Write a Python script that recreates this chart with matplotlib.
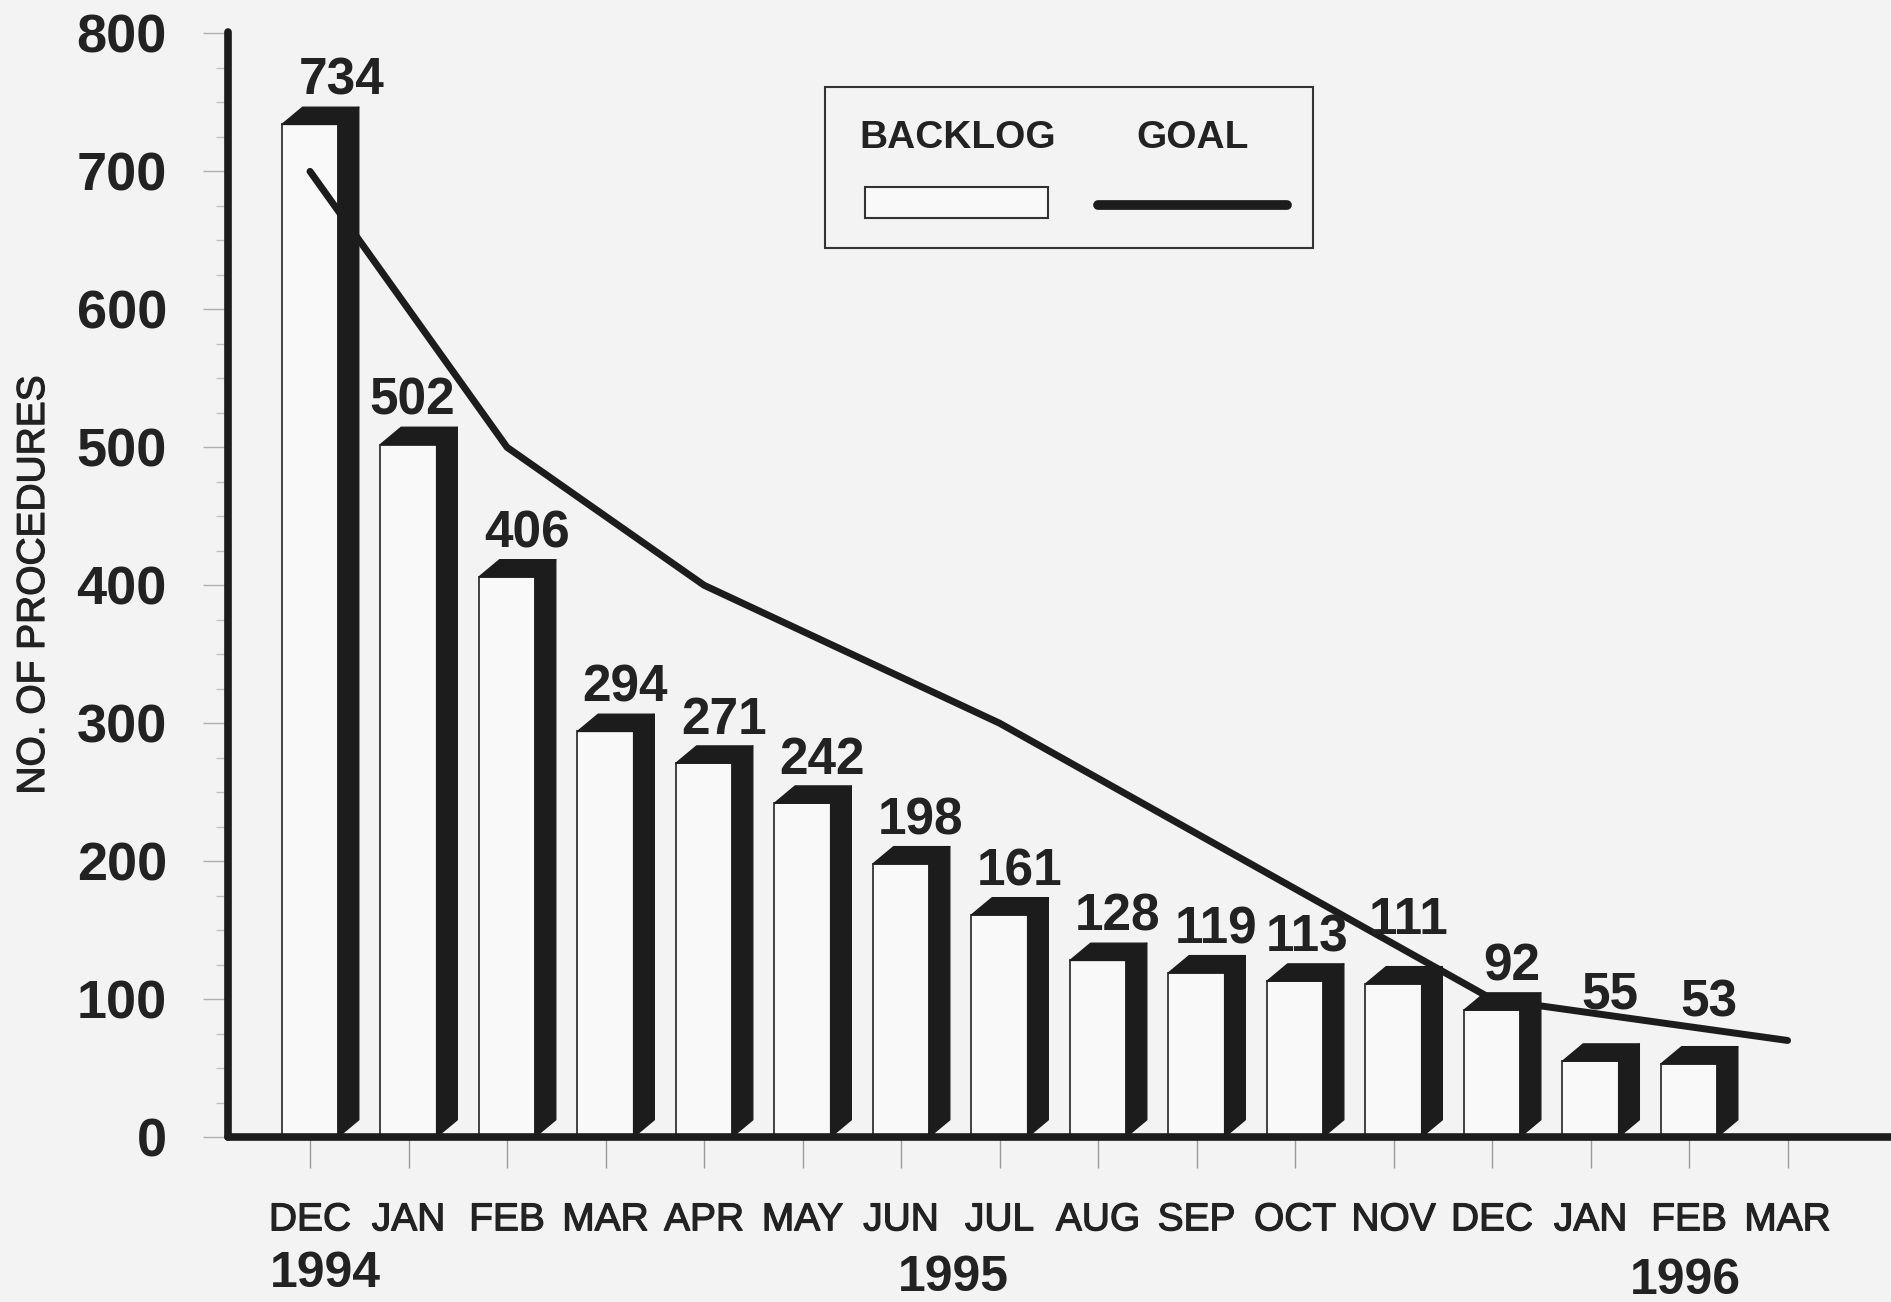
import numpy as np
import matplotlib.pyplot as plt
import matplotlib.patheffects as pe
from matplotlib.patches import Polygon, Rectangle
from matplotlib.lines import Line2D
from matplotlib.ticker import MultipleLocator

plt.rcParams['font.family'] = ['Liberation Sans', 'DejaVu Sans']

# procedure backlog, Dec 1994 - Mar 1996
months = ['DEC', 'JAN', 'FEB', 'MAR', 'APR', 'MAY', 'JUN', 'JUL',
          'AUG', 'SEP', 'OCT', 'NOV', 'DEC', 'JAN', 'FEB', 'MAR']
backlog = [734, 502, 406, 294, 271, 242, 198, 161, 128, 119, 113, 111, 92, 55, 53]

# goal line vertices (month index, value)
goal_idx = [0, 2, 4, 7, 12, 15]
goal_vals = [700, 500, 400, 300, 100, 70]

years = ['1994', '1995', '1996']

ink = '#1c1c1c'
txt = '#222222'
paper = '#f3f3f3'
face = '#f9f9f9'
thick = [pe.withStroke(linewidth=0.9, foreground=txt)]

fig = plt.figure(figsize=(18.91, 13.02), dpi=100, facecolor=paper)
ax = fig.add_axes([0.1206, 0.1267, 0.8794, 0.8487])
ax.set_facecolor(paper)
ax.set_xlim(-0.832, 16.05)
ax.set_ylim(0, 801)

for s in ['top', 'right']:
    ax.spines[s].set_visible(False)
for s in ['left', 'bottom']:
    ax.spines[s].set_linewidth(5.5)
    ax.spines[s].set_color(ink)
    ax.spines[s].set_capstyle('round')

# 3-d look: white front face, black top and side
face_w = 0.57
dx, dy = 0.21, 12.5
x = np.arange(len(backlog))
ax.bar(x, backlog, width=face_w, color=face, edgecolor='#333333', linewidth=1.3, zorder=2)
for i, v in enumerate(backlog):
    l, r = i - face_w / 2, i + face_w / 2
    top = Polygon([(l, v), (r, v), (r + dx, v + dy), (l + dx, v + dy)], closed=True,
                  fc=ink, ec=ink, lw=1, joinstyle='round', zorder=3)
    side = Polygon([(r, 0), (r + dx, dy), (r + dx, v + dy), (r, v)], closed=True,
                   fc=ink, ec=ink, lw=1, joinstyle='round', zorder=3)
    ax.add_patch(top)
    ax.add_patch(side)

ax.plot(goal_idx, goal_vals, color=ink, lw=5, solid_capstyle='round',
        solid_joinstyle='round', zorder=4)

# value labels, a few nudged off the goal line
x_nudge = {0: 0.32, 1: 0.04, 10: 0.12, 11: 0.15}
lift = {11: 15, 13: 17, 14: 13}
for i, v in enumerate(backlog):
    ax.text(i + x_nudge.get(i, 0.2), v + dy + 9 + lift.get(i, 0), str(v),
            ha='center', va='baseline', fontsize=37, fontweight='bold',
            color=txt, zorder=5)

ax.set_xticks(range(len(months)))
ax.set_xticklabels(months)
ax.tick_params(axis='x', length=22, width=1, color='#9a9a9a', pad=25,
               labelsize=28, labelcolor=txt)
for lab in ax.get_xticklabels():
    lab.set_path_effects(thick)

ax.set_yticks(range(0, 801, 100))
ax.yaxis.set_minor_locator(MultipleLocator(25))
ax.tick_params(axis='y', which='major', length=18, width=1, color='#b0b0b0', pad=26,
               labelsize=39, labelcolor=txt)
ax.tick_params(axis='y', which='minor', length=9, width=1, color='#c0c0c0')
for lab in ax.get_yticklabels():
    lab.set_fontweight('bold')

for yr, xp, yp in zip(years, [0.16, 6.53, 13.96], [-99, -102, -104]):
    ax.text(xp, yp, yr, ha='center', va='center', fontsize=36, fontweight='bold',
            color=txt, clip_on=False)

fig.text(34 / 1891, 1 - 585 / 1302, 'NO. OF PROCEDURES', rotation=90,
         ha='center', va='center', fontsize=28, color=txt, path_effects=thick)

# legend box
W, H = 1891, 1302
fig.patches.append(Rectangle((825 / W, 1 - 248 / H), 488 / W, 161 / H, transform=fig.transFigure,
                             fill=False, ec='#333333', lw=1.5))
fig.text(958 / W, 1 - 138 / H, 'BACKLOG', ha='center', va='center', fontsize=28,
         fontweight='bold', color=txt)
fig.text(1193 / W, 1 - 138 / H, 'GOAL', ha='center', va='center', fontsize=28,
         fontweight='bold', color=txt)
fig.patches.append(Rectangle((865 / W, 1 - 218 / H), 183 / W, 31 / H, transform=fig.transFigure,
                             fc=face, ec='#333333', lw=1.5))
fig.lines.append(Line2D([1098 / W, 1287 / W], [1 - 205 / H] * 2, transform=fig.transFigure,
                        lw=7, color=ink, solid_capstyle='round'))

fig.savefig('out.png', dpi=100, facecolor=fig.get_facecolor())
